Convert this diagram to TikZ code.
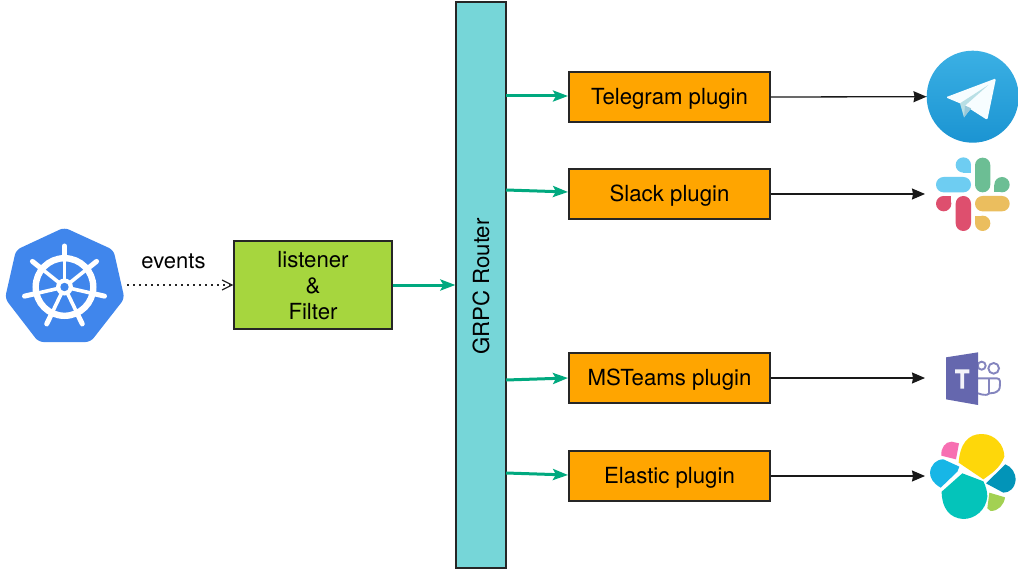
\documentclass[tikz,border=0pt]{standalone}
\usepackage{fontspec}
\setmainfont{TeX Gyre Heros}
\usetikzlibrary{arrows.meta}
\definecolor{routerc}{HTML}{76D6D8}
\definecolor{pluginc}{HTML}{FFA500}
\definecolor{listenc}{HTML}{A6D63E}
\definecolor{linkc}{HTML}{00A97F}
\definecolor{kubec}{HTML}{4086EC}
\definecolor{teamsc}{HTML}{6567AE}
\definecolor{tgtop}{HTML}{3BB0E4}
\definecolor{tgbot}{HTML}{1B94D2}
\definecolor{sb}{HTML}{6ECDF2}
\definecolor{sg}{HTML}{6CBE94}
\definecolor{sr}{HTML}{DE4F6E}
\definecolor{sy}{HTML}{EBBE5E}
\definecolor{eyellow}{HTML}{FED70A}
\definecolor{epink}{HTML}{F76FB2}
\definecolor{esky}{HTML}{17B6E6}
\definecolor{eteal}{HTML}{04C4BA}
\definecolor{edark}{HTML}{0294B8}
\definecolor{egreen}{HTML}{A3D152}
\tikzset{
  boxbase/.style={draw=black!85,line width=1.2pt,inner sep=0pt,font=\fontsize{22.2}{26}\selectfont,align=center,text=black},
  routerbox/.style={boxbase,fill=routerc,minimum width=50pt,minimum height=566pt},
  pluginbox/.style={boxbase,fill=pluginc,minimum width=201pt,minimum height=50pt,text height=15.5pt,text depth=0pt},
  listenbox/.style={boxbase,fill=listenc,minimum width=158pt,minimum height=88pt},
  greenlink/.style={draw=linkc,line width=3pt,-{Stealth[length=15pt,width=11pt,inset=3pt]}},
  blacklink/.style={draw=black!90,line width=1.3pt,-{Stealth[length=13pt,width=11pt,inset=1pt]}},
  eventlink/.style={draw=black!85,line width=1.2pt,dash pattern=on 2pt off 4pt,-{Straight Barb[length=10pt,width=10pt]}},
  spoke/.style={white,line width=3.6pt},
  spoketip/.style={white,line width=5pt,line cap=round},
}
\begin{document}
\begin{tikzpicture}[x=1pt,y=-1pt]
\useasboundingbox (0,0) rectangle (1019,569);
\fill[white] (0,0) rectangle (1019,569);

% boxes
\node[routerbox] (router) at (481,285) {\rotatebox{90}{GRPC Router\kern 3pt}};
\node[listenbox] (listener) at (313,285) {\rule{0pt}{18pt}listener\\\&\\Filter};
\node[pluginbox] (telegramp) at (669.5,97) {Telegram plugin};
\node[pluginbox] (slackp) at (669.5,194) {Slack plugin};
\node[pluginbox] (teamsp) at (669.5,378) {MSTeams plugin};
\node[pluginbox] (elasticp) at (669.5,476) {Elastic plugin};

% Kubernetes
\fill[kubec,rounded corners=5pt] (64.3,227.5) -- (113.5,250) -- (124.5,298.5) -- (90.5,342) -- (38.5,342) -- (5,298.5) -- (16,250) -- cycle;
\begin{scope}[shift={(64.5,287)}]
  \draw[white,line width=6.4pt] (0,0) circle[radius=28.8];
  \foreach \a in {90,141.43,192.86,244.29,295.71,347.14,38.57}{
    \draw[spoke] (0,0) -- ({-\a}:30);
    \draw[spoketip] ({-\a}:28) -- ({-\a}:41);
  }
  \fill[white] (0,0) circle[radius=8.5];
  \fill[kubec] (0,0) circle[radius=4.2];
\end{scope}
\coordinate (kube) at (127,285);
\node[font=\fontsize{22}{24}\selectfont] (events) at (173.5,261) {events};

% Telegram
\node[circle,minimum size=92pt,inner sep=0pt,top color=tgtop,bottom color=tgbot] (telegram) at (972.7,96.7) {};
\begin{scope}[shift={(900,40)},scale=1/3]
  \fill[white!97!cyan,rounded corners=1.5pt] (137,172) -- (288,115) -- (262,240) -- (195,197) -- (180,190) -- cycle;
  \fill[blue!15!cyan!20!white!90!black] (180,190) -- (265,135) -- (195,197) -- (213,205) -- (192,232) -- cycle;
  \fill[blue!25!cyan!30!white!85!black] (192,232) -- (213,205) -- (195,197) -- cycle;
\end{scope}

% Slack
\begin{scope}[shift={(900,40)},scale=1/3]
  \fill[sb] (190,375) circle[radius=23];
  \fill[sb] (190,375) rectangle (213,398);
  \fill[sb,rounded corners=7.6pt] (108,411) rectangle (213,457);
  \fill[sg,rounded corners=7.6pt] (225,353) rectangle (271,457);
  \fill[sg] (306,434) circle[radius=23];
  \fill[sg] (306,434) rectangle (283,457);
  \fill[sr] (131,491) circle[radius=23];
  \fill[sr] (131,491) rectangle (154,468);
  \fill[sr,rounded corners=7.6pt] (167,468) rectangle (213,573);
  \fill[sy,rounded corners=7.6pt] (225,468) rectangle (329,514);
  \fill[sy] (248,550) circle[radius=23];
  \fill[sy] (248,550) rectangle (225,527);
\end{scope}
\coordinate (slack) at (925,194);

% Teams
\begin{scope}[shift={(900,340)},scale=1/3]
  \draw[teamsc!80!white,line width=1.9pt] (245,77) circle[radius=12];
  \draw[teamsc!80!white,line width=1.9pt] (281,85) circle[radius=16];
  \draw[teamsc!80!white,line width=1.9pt,rounded corners=3pt] (234,115) -- (300,115) -- (300,135) .. controls (298,152) and (285,160) .. (268,158) .. controls (260,165) and (245,165) .. (234,160);
  \draw[teamsc!80!white,line width=1.9pt] (268,115) -- (268,158);
  \fill[teamsc] (138,52) -- (234,37) -- (234,195) -- (138,178) -- cycle;
  \fill[white!92!teamsc] (165,88) -- (208,88) -- (208,100) -- (192,100) -- (192,146) -- (181,146) -- (181,100) -- (165,100) -- cycle;
\end{scope}
\coordinate (teams) at (925,378);

% Elastic
\begin{scope}[shift={(900,340)},scale=1/3]
  \fill[eyellow] (176,368) .. controls (180,310) and (205,282) .. (245,282) .. controls (285,282) and (313,315) .. (313,350) .. controls (300,385) and (275,400) .. (250,418) -- cycle;
  \fill[epink] (124,347) .. controls (122,325) and (135,305) .. (155,305) -- (177,310) -- (168,358) -- cycle;
  \fill[esky] (122,443) .. controls (100,430) and (90,415) .. (90,398) .. controls (92,375) and (108,358) .. (130,358) -- (178,380) -- (172,395) -- cycle;
  \fill[eteal] (187,400) -- (250,424) .. controls (258,440) and (262,455) .. (262,470) .. controls (258,510) and (225,537) .. (190,537) .. controls (150,535) and (125,505) .. (125,455) -- cycle;
  \fill[edark] (316,373) .. controls (335,380) and (347,400) .. (347,418) .. controls (345,445) and (328,458) .. (310,458) -- (258,430) -- cycle;
  \fill[egreen] (268,458) -- (315,472) .. controls (312,495) and (295,513) .. (272,513) -- (262,505) -- cycle;
\end{scope}
\coordinate (elastic) at (925,476);

% connectors
\coordinate (r1) at (506,96);
\coordinate (r2) at (506,190);
\coordinate (r3) at (506,380);
\coordinate (r4) at (506,473);
\coordinate (p1) at (568,96);
\coordinate (p2) at (568,192);
\coordinate (p3) at (568,378);
\coordinate (p4) at (568,475);
\draw[greenlink] (listener.east) -- (router.west |- listener.east);
\draw[greenlink] (r1) -- (p1);
\draw[greenlink] (r2) -- (p2);
\draw[greenlink] (r3) -- (p3);
\draw[greenlink] (r4) -- (p4);
\draw[blacklink] (telegramp.east) -- (telegram.west);
\draw[blacklink] (slackp.east) -- (slack);
\draw[blacklink] (teamsp.east) -- (teams);
\draw[blacklink] (elasticp.east) -- (elastic);
\draw[eventlink] (kube) -- (listener.west |- kube);
\end{tikzpicture}
\end{document}
